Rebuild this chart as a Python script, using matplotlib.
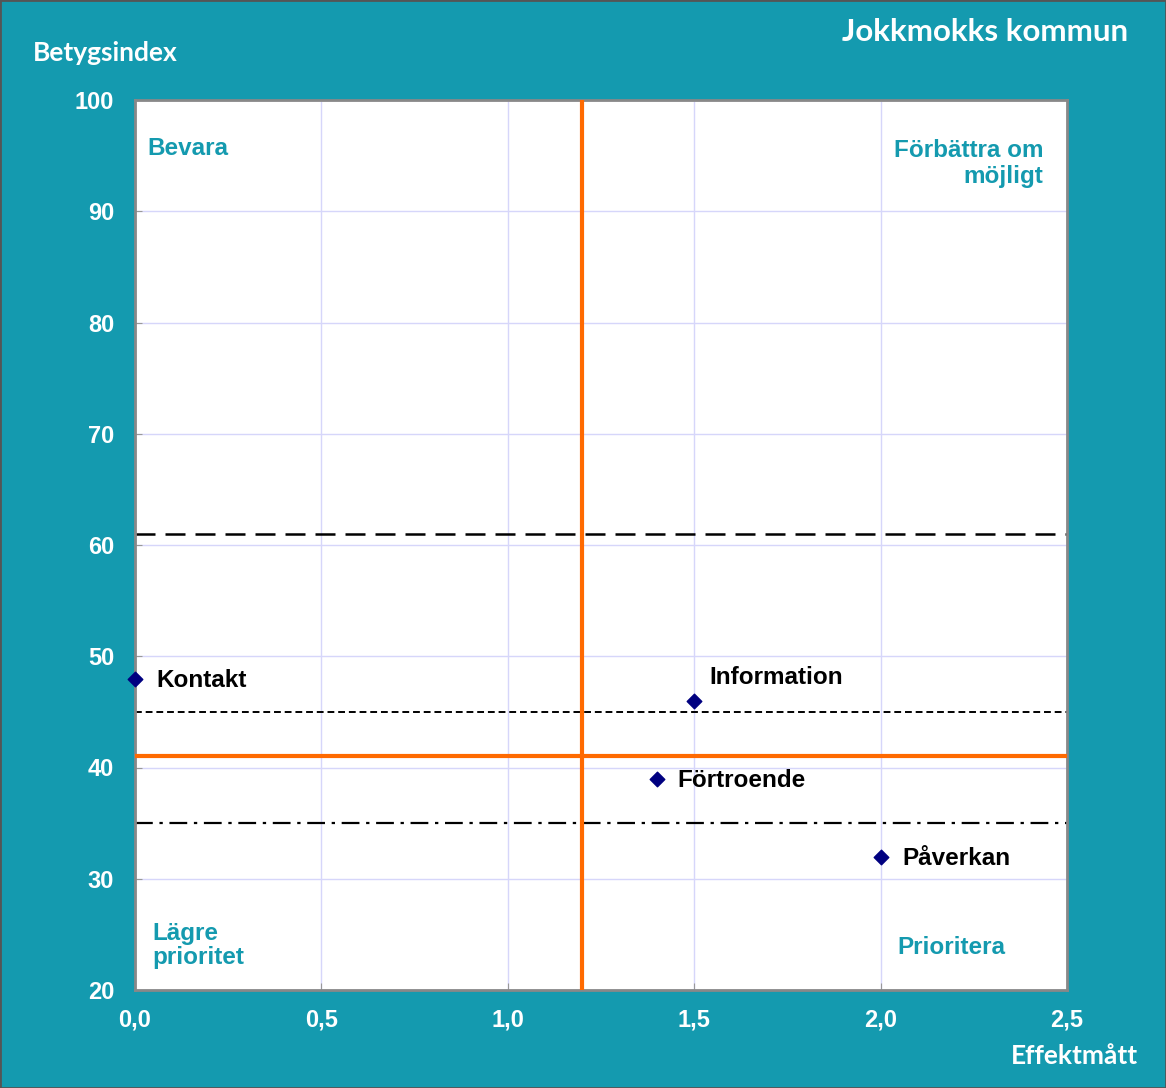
import matplotlib
matplotlib.use("Agg")
import matplotlib.pyplot as plt
from matplotlib.patches import Rectangle

# Data
names = ["Kontakt", "Information", "Förtroende", "Påverkan"]
effekt = [0.0, 1.5, 1.4, 2.0]
betyg = [48, 46, 39, 32]
x_ticks = [0.0, 0.5, 1.0, 1.5, 2.0, 2.5]
x_tick_labels = ["0,0", "0,5", "1,0", "1,5", "2,0", "2,5"]
y_ticks = [20, 30, 40, 50, 60, 70, 80, 90, 100]
ref_x = 1.2
ref_y = 41
line_long_dash = 61
line_short_dash = 45
line_dash_dot = 35

teal = "#149aaf"
W, H = 1166, 1088
fig = plt.figure(figsize=(W / 100, H / 100), dpi=100, facecolor=teal)
ax = fig.add_axes([135 / W, 1 - 990 / H, (1067 - 135) / W, (990 - 100) / H])
ax.set_facecolor("white")
ax.set_xlim(0, 2.5)
ax.set_ylim(20, 100)
ax.set_xticks(x_ticks)
ax.set_xticklabels(x_tick_labels)
ax.set_yticks(y_ticks)
ax.grid(True, color="#d6d6fa", linewidth=1.0, zorder=0)
ax.set_axisbelow(True)
for s in ax.spines.values():
    s.set_color("#888888")
    s.set_linewidth(2)
ax.tick_params(axis="both", direction="in", length=5, color="#999999",
               labelcolor="white", labelsize=17)
ax.tick_params(axis="y", pad=15)
ax.tick_params(axis="x", pad=13)
for lab in ax.get_xticklabels() + ax.get_yticklabels():
    lab.set_fontfamily("Liberation Sans")
    lab.set_fontweight("bold")

# Reference lines
ax.axhline(line_long_dash, color="black", linewidth=1.8, dashes=(8, 4), zorder=2)
ax.axhline(line_short_dash, color="black", linewidth=1.4, dashes=(3.5, 2), zorder=2)
ax.axhline(line_dash_dot, color="black", linewidth=1.6, dashes=(8, 3, 1.5, 3), zorder=2)
ax.axhline(ref_y, color="#ff6a00", linewidth=3, zorder=3)
ax.axvline(ref_x, color="#ff6a00", linewidth=3, zorder=3)

# Points
ax.scatter(effekt, betyg, marker="D", s=55, color="#000080", zorder=5, clip_on=False)
offsets = {
    "Kontakt": (0.056, -0.2),
    "Information": (0.04, 2.05),
    "Förtroende": (0.056, -0.2),
    "Påverkan": (0.059, -0.2),
}
for n, xv, yv in zip(names, effekt, betyg):
    dx, dy = offsets[n]
    ax.text(xv + dx, yv + dy, n, ha="left", va="center", fontsize=17.5, fontweight="bold",
            family="Liberation Sans", color="black", zorder=6)

# Quadrant labels
qkw = dict(fontsize=17.5, fontweight="bold", family="Liberation Sans", color=teal)
ax.text(0.032, 95.6, "Bevara", ha="left", va="center", **qkw)
ax.text(2.436, 94.3, "Förbättra om\nmöjligt", ha="right", va="center", linespacing=1.15, **qkw)
ax.text(0.046, 24.0, "Lägre\nprioritet", ha="left", va="center", linespacing=1.1, **qkw)
ax.text(2.189, 23.8, "Prioritera", ha="center", va="center", **qkw)

# Titles
tkw = dict(color="white", fontweight="bold", family="Lato")
fig.text(33 / W, 1 - 53 / H, "Betygsindex", ha="left", va="center", fontsize=19, **tkw)
fig.text(1128 / W, 1 - 32 / H, "Jokkmokks kommun", ha="right", va="center", fontsize=22.5, **tkw)
fig.text(1138 / W, 1 - 1056 / H, "Effektmått", ha="right", va="center", fontsize=19, **tkw)

# Figure border
fig.patches.append(Rectangle((0, 0), 1, 1, transform=fig.transFigure, fill=False,
                             edgecolor="#555555", linewidth=2))

fig.savefig("out.png", dpi=100, facecolor=teal)
